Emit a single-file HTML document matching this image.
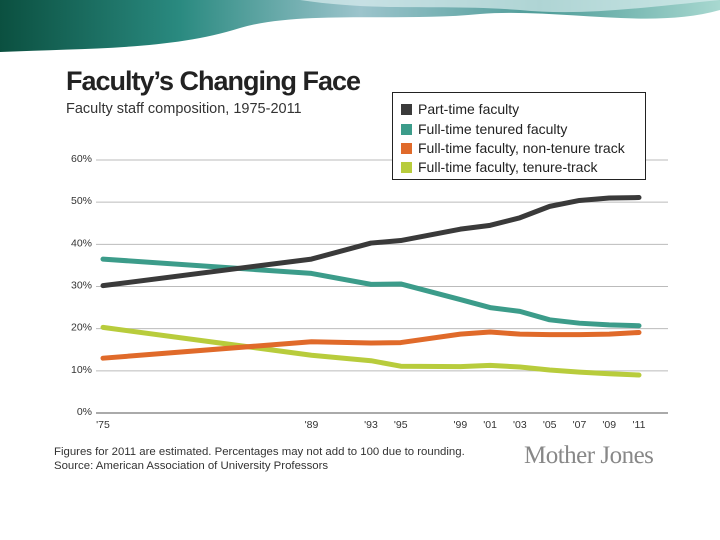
<!DOCTYPE html>
<html><head><meta charset="utf-8"><style>
body{margin:0;width:720px;height:540px;background:#fff;overflow:hidden;font-family:"Liberation Sans",sans-serif;position:relative}
.t{position:absolute;white-space:nowrap}
</style></head><body>
<svg style="position:absolute;left:0;top:0" width="720" height="70">
<defs><linearGradient id="g" x1="0" x2="1"><stop offset="0" stop-color="#0b5040"/><stop offset="0.25" stop-color="#2a8a80"/><stop offset="0.5" stop-color="#9cc4cc"/><stop offset="0.75" stop-color="#4e9c98"/><stop offset="1" stop-color="#a8d8d0"/></linearGradient></defs>
<path d="M0,0 H720 V10 C650,30 560,8 480,14 C400,22 300,10 240,28 C170,50 90,48 0,52 Z" fill="url(#g)"/>
<path d="M300,0 C380,12 440,4 520,10 C580,16 640,8 720,0 Z" fill="#d8ecee" opacity="0.7"/>
</svg>
<div class="t" style="left:66px;top:66px;font-size:27px;font-weight:bold;color:#222;letter-spacing:-1px">Faculty’s Changing Face</div>
<div class="t" style="left:66px;top:101px;font-size:14.5px;color:#333">Faculty staff composition, 1975-2011</div>
<svg id="c" style="position:absolute;left:0;top:0" width="720" height="540"></svg>
<div style="position:absolute;left:392px;top:92px;width:252px;height:86px;border:1.5px solid #222;background:#fff;font-size:14px;color:#222">
<div style="position:absolute;left:8px;top:8px"><span style="display:inline-block;width:11px;height:11px;background:#3a3a3a;margin-right:6px;vertical-align:-1px"></span>Part-time faculty</div>
<div style="position:absolute;left:8px;top:28px"><span style="display:inline-block;width:11px;height:11px;background:#3c9c8a;margin-right:6px;vertical-align:-1px"></span>Full-time tenured faculty</div>
<div style="position:absolute;left:8px;top:47px"><span style="display:inline-block;width:11px;height:11px;background:#e06a2a;margin-right:6px;vertical-align:-1px"></span>Full-time faculty, non-tenure track</div>
<div style="position:absolute;left:8px;top:66px"><span style="display:inline-block;width:11px;height:11px;background:#b8cc3c;margin-right:6px;vertical-align:-1px"></span>Full-time faculty, tenure-track</div>
</div>
<div class="t" style="left:54px;top:446px;font-size:11.4px;color:#333">Figures for 2011 are estimated. Percentages may not add to 100 due to rounding.</div>
<div class="t" style="left:54px;top:460px;font-size:11.4px;color:#333">Source: American Association of University Professors</div>
<div class="t" style="left:524px;top:442px;font-size:25px;font-family:'Liberation Serif',serif;color:#888;letter-spacing:-0.5px">Mother Jones</div>
<script>
const years=[1975,1989,1993,1995,1999,2001,2003,2005,2007,2009,2011];
const yearLabels=["'75","'89","'93","'95","'99","'01","'03","'05","'07","'09","'11"];
const yTicks=[0,10,20,30,40,50,60];
const partTime=[30.2,36.5,40.3,40.9,43.6,44.5,46.3,49,50.4,51,51.1];
const tenured=[36.5,33.1,30.5,30.6,26.9,25,24.1,22.1,21.3,20.9,20.7];
const nonTenure=[13,16.9,16.6,16.7,18.7,19.2,18.7,18.6,18.6,18.7,19.1];
const tenureTrack=[20.3,13.7,12.4,11.1,11,11.3,10.9,10.2,9.7,9.3,9.0];
const svg=document.getElementById('c');const NS='http://www.w3.org/2000/svg';
const x=y=>103+(y-1975)*(536/36);
const yy=v=>413-v*(253/60);
function mk(t,a){const e=document.createElementNS(NS,t);for(const k in a)e.setAttribute(k,a[k]);svg.appendChild(e);return e;}
yTicks.forEach(v=>{
 const l=mk('line',{x1:96,x2:668,y1:yy(v),y2:yy(v),stroke:v===0?'#777':'#bbb','stroke-width':v===0?1.3:1});
 
 
 const t=mk('text',{x:92,y:yy(v)+2,'text-anchor':'end','font-size':10.5,fill:'#333','font-family':'Liberation Sans'});
 t.textContent=v+'%';
 
 
});
years.forEach((yr,i)=>{
 const t=mk('text',{x:x(yr),y:428,'text-anchor':'middle','font-size':10.5,fill:'#333','font-family':'Liberation Sans'});
 t.textContent=yearLabels[i];
 
 
});
[[tenureTrack,'#b8cc3c','line-tenure-track'],[nonTenure,'#e06a2a','line-non-tenure'],[tenured,'#3c9c8a','line-tenured'],[partTime,'#3a3a3a','line-part-time']].forEach(([d,c,n])=>{
 const p=mk('polyline',{points:d.map((v,i)=>x(years[i])+','+yy(v)).join(' '),fill:'none',stroke:c,'stroke-width':5,'stroke-linejoin':'round','stroke-linecap':'round'});
 
 
});
</script>
</body></html>
